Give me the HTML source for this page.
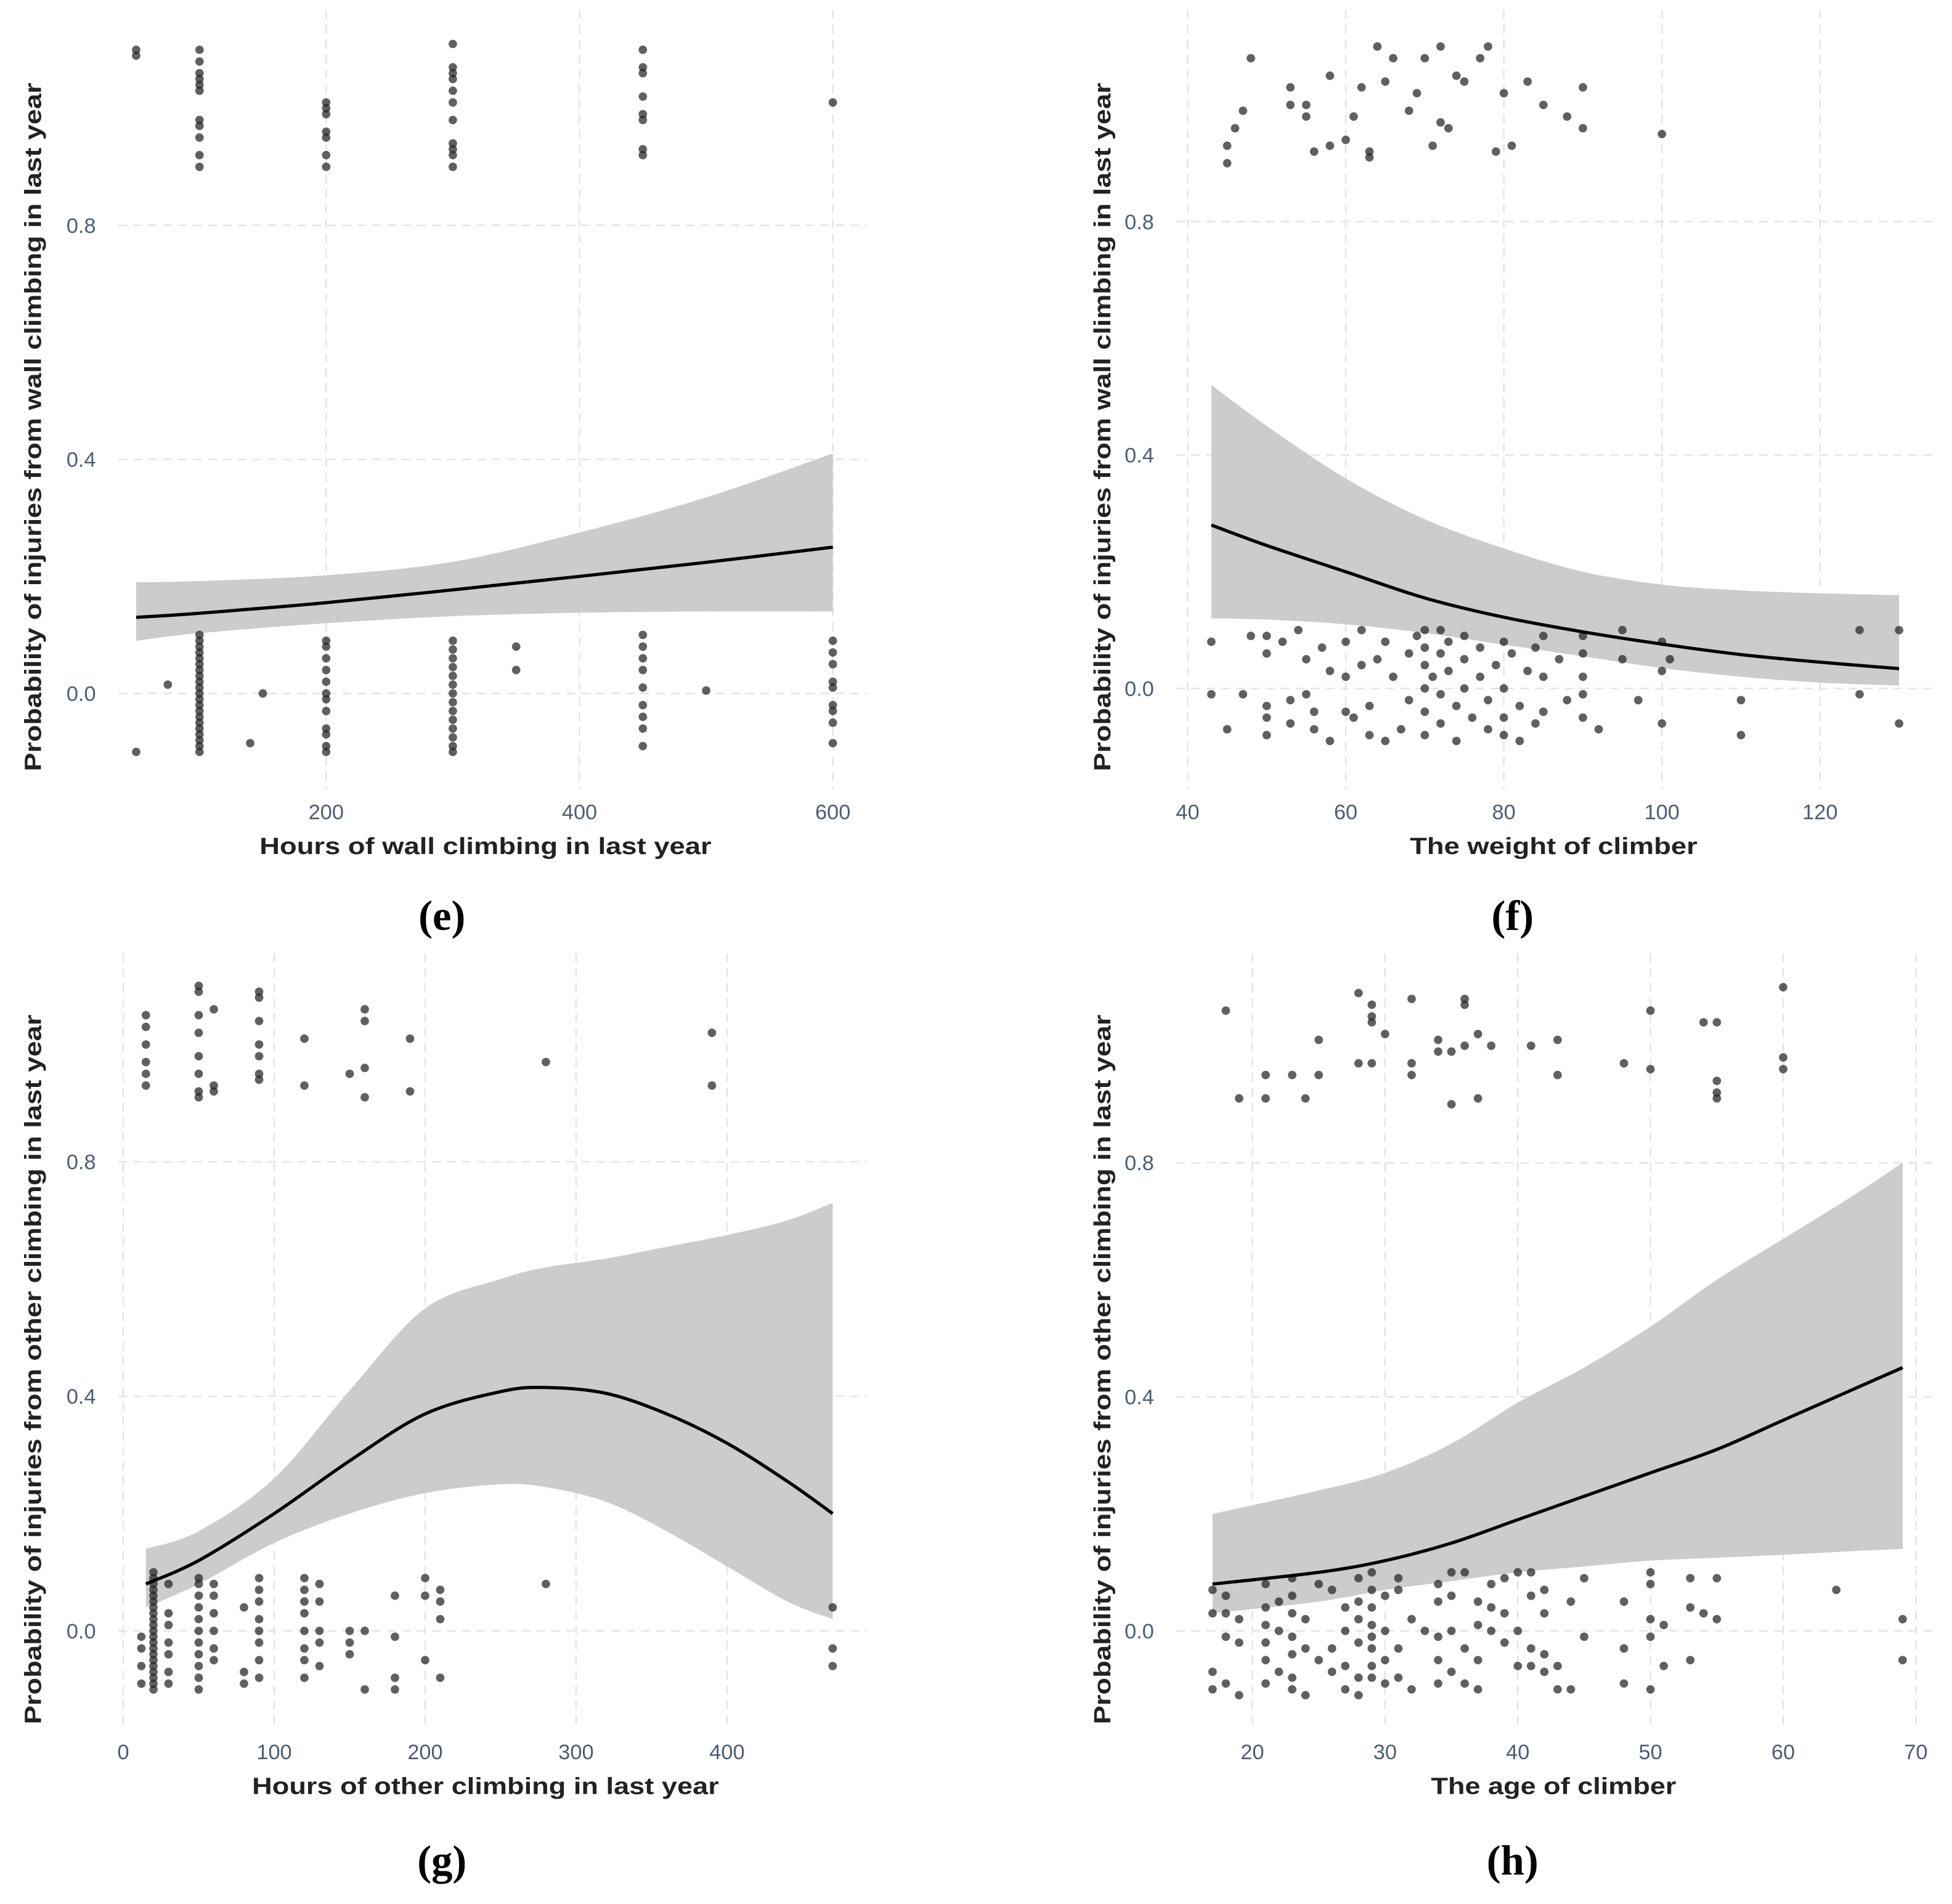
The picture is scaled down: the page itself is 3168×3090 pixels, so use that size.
<!DOCTYPE html>
<html><head><meta charset="utf-8"><style>
html,body{margin:0;padding:0;background:#fff;}
svg{display:block;}
.tick{font-family:"Liberation Sans",sans-serif;font-size:17px;fill:#4d5d73;}
.ttl{font-family:"Liberation Sans",sans-serif;font-size:19px;font-weight:bold;fill:#222;}
.cap{font-family:"Liberation Serif",serif;font-size:34px;font-weight:bold;fill:#000;}
</style></head><body>
<svg id="fig" width="3168" height="3090" viewBox="0 0 1568 1529.4" xmlns="http://www.w3.org/2000/svg"></svg>
<script>
// ---- panel e data ----
const eTicksX=[200,400,600];
const eTicksY=[0,0.4,0.8];
const eFitX=[50,100,200,300,400,500,600];
const eFit=[0.13,0.137,0.155,0.177,0.2,0.224,0.25];
const eLow=[0.09,0.103,0.12,0.132,0.138,0.14,0.14];
const eUp=[0.19,0.192,0.202,0.225,0.275,0.335,0.41];
const eCols=[[50,[1.09,1.1,-0.1]],[75,[0.015]],[100,[1.1,1.08,1.06,1.05,1.04,1.03,0.98,0.97,0.95,0.92,0.9,0.1,0.09,0.08,0.07,0.06,0.05,0.04,0.03,0.02,0.01,0,-0.01,-0.02,-0.03,-0.04,-0.05,-0.06,-0.07,-0.08,-0.09,-0.1]],[140,[-0.085]],[150,[0.0]],[200,[1.01,1.0,0.99,0.96,0.95,0.92,0.9,0.09,0.08,0.06,0.04,0.02,0.0,-0.01,-0.03,-0.06,-0.07,-0.09,-0.1]],[300,[1.11,1.07,1.06,1.05,1.03,1.01,0.98,0.94,0.93,0.92,0.9,0.09,0.075,0.06,0.045,0.03,0.015,0,-0.015,-0.03,-0.045,-0.06,-0.075,-0.09,-0.1]],[350,[0.08,0.04]],[450,[1.1,1.07,1.06,1.02,0.99,0.98,0.93,0.92,0.1,0.08,0.06,0.04,0.01,-0.02,-0.04,-0.06,-0.09]],[500,[0.005]],[600,[1.01,0.09,0.07,0.05,0.02,0.01,-0.02,-0.03,-0.05,-0.085]]];
// ---- panel f data ----
const fTicksX=[40,60,80,100,120];
const fTicksY=[0,0.4,0.8];
const fFitX=[43,50,60,70,80,90,100,110,120,130];
const fFit=[0.28,0.245,0.2,0.155,0.122,0.097,0.076,0.058,0.045,0.034];
const fLow=[0.12,0.118,0.11,0.095,0.075,0.055,0.035,0.02,0.01,0.005];
const fUp=[0.52,0.45,0.36,0.29,0.24,0.2,0.178,0.168,0.163,0.16];
const fPts=[[45,0.93],[45,0.9],[46,0.96],[47,0.99],[53,1.03],[53,1.0],[55,0.98],[55,1.0],[56,0.92],[58,1.05],[60,0.94],[61,0.98],[62,1.03],[63,0.92],[63,0.91],[64,1.1],[65,1.04],[66,1.08],[68,0.99],[69,1.02],[70,1.08],[71,0.93],[72,1.1],[72,0.97],[73,0.96],[74,1.05],[75,1.04],[77,1.08],[78,1.1],[79,0.92],[80,1.02],[81,0.93],[83,1.04],[85,1.0],[88,0.98],[90,1.03],[90,0.96],[100,0.95],[48,1.08],[58,0.93],
[43,0.08],[43,-0.01],[45,-0.07],[47,-0.01],[48,0.09],[50,0.09],[50,0.06],[50,-0.03],[50,-0.05],[50,-0.08],[52,0.08],[53,-0.02],[53,-0.06],[54,0.1],[55,0.05],[55,-0.01],[56,-0.04],[56,-0.07],[57,0.07],[58,0.03],[58,-0.09],[60,0.08],[60,0.02],[60,-0.04],[61,-0.05],[62,0.1],[62,0.04],[63,-0.03],[63,-0.08],[64,0.05],[65,0.08],[65,-0.09],[66,0.02],[67,-0.07],[68,0.06],[68,-0.02],[69,0.09],[70,0.1],[70,0.07],[70,0.04],[70,0.0],[70,-0.04],[70,-0.08],[71,0.02],[72,0.1],[72,0.06],[72,-0.01],[72,-0.06],[73,0.08],[73,0.03],[74,-0.03],[74,-0.09],[75,0.09],[75,0.05],[75,0.0],[76,-0.05],[77,0.07],[77,0.02],[78,-0.07],[78,-0.02],[79,0.04],[80,0.08],[80,0.0],[80,-0.05],[80,-0.08],[81,0.06],[82,-0.03],[82,-0.09],[83,0.03],[84,0.07],[84,-0.06],[85,0.09],[85,0.02],[85,-0.04],[87,0.05],[88,-0.02],[90,0.09],[90,0.06],[90,0.02],[90,-0.01],[90,-0.05],[92,-0.07],[95,0.1],[95,0.05],[97,-0.02],[100,0.08],[100,0.03],[100,-0.06],[101,0.05],[110,-0.02],[110,-0.08],[125,0.1],[125,-0.01],[130,0.1],[130,-0.06]];
// ---- panel g data ----
const gTicksX=[0,100,200,300,400];
const gTicksY=[0,0.4,0.8];
const gFitX=[15,50,100,150,200,250,280,320,360,400,440,470];
const gFit=[0.08,0.12,0.2,0.29,0.37,0.408,0.415,0.405,0.37,0.32,0.255,0.2];
const gLow=[0.04,0.08,0.15,0.2,0.235,0.25,0.245,0.22,0.17,0.11,0.05,0.02];
const gUp=[0.14,0.17,0.26,0.41,0.55,0.6,0.62,0.635,0.655,0.675,0.7,0.73];
const gCols=[[12,[-0.09,-0.06,-0.03,-0.01]],[15,[1.05,1.03,1.0,0.97,0.95,0.93]],[20,[0.1,0.09,0.08,0.07,0.06,0.05,0.04,0.03,0.02,0.01,0,-0.01,-0.02,-0.03,-0.04,-0.05,-0.06,-0.07,-0.08,-0.09,-0.1]],[30,[0.08,0.03,0.01,-0.02,-0.04,-0.07,-0.09]],[50,[1.1,1.09,1.05,1.02,0.98,0.95,0.92,0.91,0.09,0.08,0.06,0.04,0.02,0.0,-0.02,-0.04,-0.06,-0.08,-0.1]],[60,[1.06,0.93,0.92,0.08,0.06,0.03,0.0,-0.03,-0.05]],[80,[0.04,-0.07,-0.09]],[90,[1.09,1.08,1.04,1.0,0.98,0.95,0.94,0.09,0.07,0.05,0.02,0.0,-0.02,-0.05,-0.08]],[120,[1.01,0.93,0.09,0.07,0.05,0.03,0.0,-0.03,-0.05,-0.08]],[130,[0.08,0.05,0.0,-0.02,-0.06]],[150,[0.95,0.0,-0.02,-0.04]],[160,[1.06,1.04,0.96,0.91,0.0,-0.1]],[180,[0.06,-0.01,-0.08,-0.1]],[190,[1.01,0.92]],[200,[0.09,0.06,-0.05]],[210,[0.07,0.05,0.02,-0.08]],[280,[0.97,0.08]],[390,[1.02,0.93]],[470,[0.04,-0.03,-0.06]]];
// ---- panel h data ----
const hTicksX=[20,30,40,50,60,70];
const hTicksY=[0,0.4,0.8];
const hFitX=[17,25,30,35,40,45,50,55,60,65,69];
const hFit=[0.08,0.1,0.12,0.15,0.19,0.23,0.27,0.31,0.36,0.41,0.45];
const hLow=[0.03,0.05,0.07,0.085,0.1,0.11,0.12,0.125,0.13,0.136,0.14];
const hUp=[0.2,0.24,0.27,0.32,0.39,0.45,0.52,0.6,0.67,0.74,0.8];
const hPts=[[18,1.06],[19,0.91],[21,0.95],[21,0.91],[23,0.95],[24,0.91],[25,1.01],[25,0.95],[28,1.09],[28,0.97],[29,1.07],[29,1.05],[29,1.04],[29,0.97],[30,1.02],[32,1.08],[32,0.97],[32,0.95],[34,1.01],[34,0.99],[35,0.99],[35,0.9],[36,1.08],[36,1.07],[36,1.0],[37,1.02],[37,0.91],[38,1.0],[41,1.0],[43,1.01],[43,0.95],[48,0.97],[50,1.06],[50,0.96],[54,1.04],[55,1.04],[55,0.94],[55,0.92],[55,0.91],[60,1.1],[60,0.98],[60,0.96],
[17,0.07],[17,0.03],[17,-0.07],[17,-0.1],[18,0.06],[18,0.03],[18,-0.01],[18,-0.09],[19,0.02],[19,-0.02],[19,-0.11],[21,0.08],[21,0.04],[21,0.01],[21,-0.02],[21,-0.05],[21,-0.09],[22,0.05],[22,0.0],[22,-0.07],[23,0.09],[23,0.06],[23,0.03],[23,-0.01],[23,-0.04],[23,-0.08],[23,-0.1],[24,0.02],[24,-0.03],[24,-0.11],[25,0.08],[25,-0.05],[26,0.07],[26,-0.03],[26,-0.07],[27,0.04],[27,0.0],[27,-0.06],[27,-0.1],[28,0.09],[28,0.05],[28,0.02],[28,-0.02],[28,-0.08],[28,-0.11],[29,0.1],[29,0.07],[29,0.04],[29,0.01],[29,-0.01],[29,-0.03],[29,-0.06],[29,-0.08],[30,0.06],[30,0.0],[30,-0.05],[30,-0.09],[31,0.09],[31,0.07],[31,-0.03],[31,-0.08],[32,0.02],[32,-0.1],[33,0.0],[34,0.08],[34,0.05],[34,-0.01],[34,-0.05],[34,-0.09],[35,0.1],[35,0.06],[35,0.0],[35,-0.07],[36,0.1],[36,-0.03],[36,-0.09],[37,0.05],[37,0.01],[37,-0.05],[37,-0.1],[38,0.08],[38,0.04],[38,0.0],[39,0.09],[39,0.03],[39,-0.02],[40,0.1],[40,0.0],[40,-0.06],[41,0.1],[41,0.06],[41,-0.03],[41,-0.06],[42,0.07],[42,0.03],[42,-0.04],[42,-0.07],[43,-0.06],[43,-0.1],[44,0.05],[44,-0.1],[45,0.09],[45,-0.01],[48,0.05],[48,-0.03],[48,-0.09],[50,0.1],[50,0.08],[50,0.02],[50,-0.01],[50,-0.1],[51,0.01],[51,-0.06],[53,0.09],[53,0.04],[53,-0.05],[54,0.03],[55,0.09],[55,0.02],[64,0.07],[69,0.02],[69,-0.05]];

const NS='http://www.w3.org/2000/svg';
const svg=document.getElementById('fig');
function mk(tag,attrs,parent){const e=document.createElementNS(NS,tag);for(const k in attrs)e.setAttribute(k,attrs[k]);(parent||svg).appendChild(e);return e;}
// Catmull-Rom smooth path through points (continues from current point)
function smooth(P){
  let d='';
  for(let i=0;i<P.length-1;i++){
    const p0=P[Math.max(0,i-1)],p1=P[i],p2=P[i+1],p3=P[Math.min(P.length-1,i+2)];
    const c1=[p1[0]+(p2[0]-p0[0])/6,p1[1]+(p2[1]-p0[1])/6];
    const c2=[p2[0]-(p3[0]-p1[0])/6,p2[1]-(p3[1]-p1[1])/6];
    d+=`C${c1[0]},${c1[1]} ${c2[0]},${c2[1]} ${p2[0]},${p2[1]}`;
  }
  return d;
}

function panel(cfg,ticksX,ticksY,fitX,fit,low,up,pts){
  const g=mk('g',{});
  
  
  const sx=v=>cfg.x0+(v-cfg.xv0)*cfg.kx;
  const sy=v=>cfg.y0-v*cfg.ky;
  ticksY.forEach(t=>{
    const l=mk('line',{x1:cfg.l,x2:cfg.r,y1:sy(t),y2:sy(t),stroke:'#e3e3e3','stroke-width':1.2,'stroke-dasharray':'7,5'},g);
    
    
    const tx=mk('text',{x:cfg.l-18,y:sy(t)+6,'text-anchor':'end',class:'tick'},g);
    tx.textContent=t.toFixed(1);
    
    
  });
  ticksX.forEach(t=>{
    const l=mk('line',{x1:sx(t),x2:sx(t),y1:cfg.t,y2:cfg.b,stroke:'#e3e3e3','stroke-width':1.2,'stroke-dasharray':'7,5'},g);
    
    
    const tx=mk('text',{x:sx(t),y:cfg.b+24,'text-anchor':'middle',class:'tick'},g);
    tx.textContent=String(t);
    
    
  });
  const upP=fitX.map((x,i)=>[sx(x),sy(up[i])]);
  const lowP=fitX.map((x,i)=>[sx(x),sy(low[i])]).reverse();
  const d='M'+upP[0].join(',')+smooth(upP)+'L'+lowP[0].join(',')+smooth(lowP)+'Z';
  const band=mk('path',{d:d,fill:'#cccccc'},g);
  
  
  pts.forEach(p=>{
    const c=mk('circle',{cx:sx(p[0]),cy:sy(p[1]),r:3.4,fill:'#222','fill-opacity':0.72},g);
    
    
  });
  const fP=fitX.map((x,i)=>[sx(x),sy(fit[i])]);
  const line=mk('path',{d:'M'+fP[0].join(',')+smooth(fP),fill:'none',stroke:'#000','stroke-width':2.6},g);
  
  
  const xt=mk('text',{x:cfg.xtx,y:cfg.b+52,'text-anchor':'middle',class:'ttl',textLength:cfg.xtl,lengthAdjust:'spacingAndGlyphs'},g);
  xt.textContent=cfg.xtitle;
  
  
  const yt=mk('text',{x:0,y:0,'text-anchor':'middle',class:'ttl',transform:`translate(${cfg.ytx},${cfg.yty}) rotate(-90)`,textLength:cfg.ytl,lengthAdjust:'spacingAndGlyphs'},g);
  yt.textContent=cfg.ytitle;
  
  
  const cp=mk('text',{x:cfg.capx,y:cfg.capy,'text-anchor':'middle',class:'cap'},g);
  cp.textContent=cfg.cap;
  
  
}
function cols(c){const o=[];c.forEach(([x,ys])=>ys.forEach(y=>o.push([x,y])));return o;}

panel({name:'panel-e',x0:262,xv0:200,kx:1.0175,y0:557,ky:470,l:95,r:697,t:8,b:634,xtx:390,xtl:363,xtitle:'Hours of wall climbing in last year',ytx:33,yty:343,ytl:553,ytitle:'Probability of injuries from wall climbing in last year',capx:355,capy:747,cap:'(e)'},eTicksX,eTicksY,eFitX,eFit,eLow,eUp,cols(eCols));
panel({name:'panel-f',x0:954,xv0:40,kx:6.35,y0:553,ky:468.75,l:945,r:1557,t:8,b:634,xtx:1248,xtl:231,xtitle:'The weight of climber',ytx:892,yty:343,ytl:553,ytitle:'Probability of injuries from wall climbing in last year',capx:1215,capy:747,cap:'(f)'},fTicksX,fTicksY,fFitX,fFit,fLow,fUp,fPts);
panel({name:'panel-g',x0:99,xv0:0,kx:1.2125,y0:1310,ky:471,l:95,r:697,t:766,b:1389,xtx:390,xtl:375,xtitle:'Hours of other climbing in last year',ytx:33,yty:1100,ytl:570,ytitle:'Probability of injuries from other climbing in last year',capx:355,capy:1506,cap:'(g)'},gTicksX,gTicksY,gFitX,gFit,gLow,gUp,cols(gCols));
panel({name:'panel-h',x0:1006,xv0:20,kx:10.66,y0:1310,ky:470,l:945,r:1557,t:766,b:1389,xtx:1248,xtl:197,xtitle:'The age of climber',ytx:892,yty:1100,ytl:570,ytitle:'Probability of injuries from other climbing in last year',capx:1215,capy:1506,cap:'(h)'},hTicksX,hTicksY,hFitX,hFit,hLow,hUp,hPts);
</script>
</body></html>
